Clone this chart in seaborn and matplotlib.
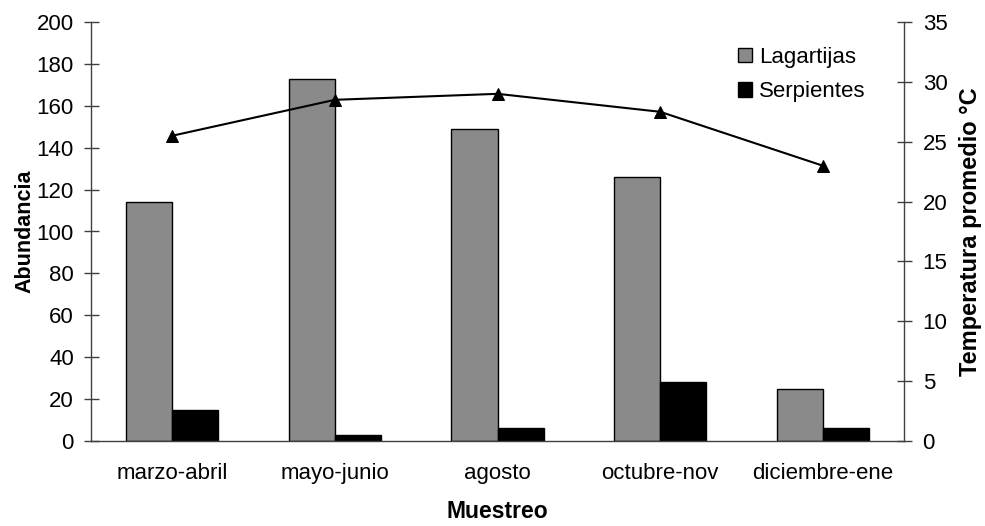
import matplotlib
matplotlib.use("Agg")
import matplotlib.pyplot as plt
import seaborn as sns
import numpy as np
import pandas as pd

categories = ["marzo-abril", "mayo-junio", "agosto", "octubre-nov", "diciembre-ene"]
lagartijas = [114, 173, 149, 126, 25]
serpientes = [15, 3, 6, 28, 6]
temperatura = [25.5, 28.5, 29.0, 27.5, 23.0]
y_left_ticks = list(range(0, 201, 20))
y_right_ticks = list(range(0, 36, 5))

sns.set_theme(style="white")
plt.rcParams["font.family"] = ["Liberation Sans", "DejaVu Sans"]
plt.rcParams["text.color"] = "black"
plt.rcParams["axes.labelcolor"] = "black"
plt.rcParams["xtick.labelcolor"] = "black"
plt.rcParams["ytick.labelcolor"] = "black"

df = pd.DataFrame({
    "Muestreo": categories * 2,
    "Abundancia": lagartijas + serpientes,
    "Grupo": ["Lagartijas"] * len(categories) + ["Serpientes"] * len(categories),
})

fig = plt.figure(figsize=(9.85, 5.26), dpi=100)
ax = fig.add_axes([91 / 985, 1 - 441 / 526, (904 - 91) / 985, (441 - 22) / 526])

sns.barplot(data=df, x="Muestreo", y="Abundancia", hue="Grupo",
            palette={"Lagartijas": "#8a8a8a", "Serpientes": "#000000"},
            width=0.566, edgecolor="black", linewidth=1.0, saturation=1,
            ax=ax, legend=True)

ax.set_xlim(-0.5, len(categories) - 0.5)
ax.set_ylim(0, 200)
ax.set_yticks(y_left_ticks)
ax.tick_params(axis="y", labelsize=16, direction="inout", length=10.8, width=1,
               color="#404040", labelcolor="black", pad=7)
ax.set_xticks(range(len(categories)))
ax.set_xticklabels(categories, fontsize=16)
ax.tick_params(axis="x", length=0, pad=15.5, labelcolor="black")
ax.set_xticks(np.arange(-0.5, len(categories), 1.0), minor=True)
ax.tick_params(axis="x", which="minor", direction="inout", length=10.8, width=1, color="#404040")

ax.set_ylabel("Abundancia", fontsize=15.5, fontweight="bold", labelpad=1, color="black")
ax.set_xlabel("Muestreo", fontsize=16.5, fontweight="bold", labelpad=12, color="black")

for side in ["top", "right"]:
    ax.spines[side].set_visible(False)
for side in ["left", "bottom"]:
    ax.spines[side].set_color("#404040")
    ax.spines[side].set_linewidth(1)

ax2 = ax.twinx()
sns.lineplot(x=np.arange(len(categories)), y=temperatura, ax=ax2, color="black",
             linewidth=1.5, marker="^", markersize=9, markeredgecolor="black")
ax2.set_ylim(0, 35)
ax2.set_yticks(y_right_ticks)
ax2.tick_params(axis="y", labelsize=16, direction="inout", length=10.8, width=1,
                color="#404040", labelcolor="black", pad=8)
ax2.set_ylabel("Temperatura promedio °C", fontsize=17, fontweight="bold", labelpad=8,
               color="black")
for side in ["top", "left", "bottom"]:
    ax2.spines[side].set_visible(False)
ax2.spines["right"].set_color("#404040")
ax2.spines["right"].set_linewidth(1)

handles, labels = ax.get_legend_handles_labels()
leg = ax.legend(handles, labels, loc="upper left", bbox_to_anchor=(0.785, 0.962),
                frameon=False, fontsize=16, handlelength=0.63, handleheight=0.63,
                handletextpad=0.3, labelspacing=0.6, borderaxespad=0)
for t in leg.get_texts():
    t.set_color("black")

fig.savefig("out.png", dpi=100)
